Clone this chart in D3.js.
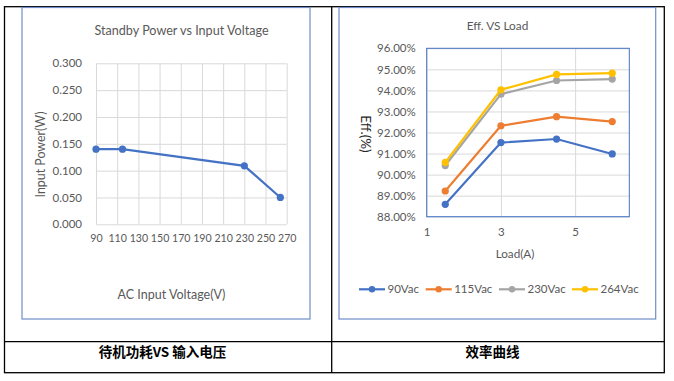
<!DOCTYPE html>
<html><head><meta charset="utf-8">
<script src="https://cdnjs.cloudflare.com/ajax/libs/d3/7.8.5/d3.min.js"></script>
<style>
html,body{margin:0;padding:0;background:#fff;}
svg text{font-family:Lato,"Open Sans",sans-serif;}
.cap{font-family:"Noto Sans CJK SC",sans-serif;font-weight:bold;}
</style></head>
<body><svg id="c" width="674" height="381"></svg>
<script>
// ---- data ----
const voltages = [90, 115, 230, 264];
const standbyPower = [0.140, 0.140, 0.109, 0.050];
const voltTicks = [90,110,130,150,170,190,210,230,250,270];
const powerTicks = [0,0.05,0.1,0.15,0.2,0.25,0.3];

const loads = [1.5, 3, 4.5, 6];
const seriesNames = ["90Vac","115Vac","230Vac","264Vac"];
const eff90 = [88.59, 91.52, 91.69, 90.98];
const eff115 = [89.22, 92.32, 92.75, 92.52];
const eff230 = [90.43, 93.82, 94.47, 94.54];
const eff264 = [90.58, 94.03, 94.76, 94.82];
const effTicks = [88,89,90,91,92,93,94,95,96];
const loadTicks = [1,3,5];
const colors = ["#4472C4","#ED7D31","#A5A5A5","#FFC000"];

const svg = d3.select("#c");
const gray = "#595959";

// ---- table frame ----
const T = svg.append("g").attr("stroke","#000").attr("stroke-width",1.3).attr("fill","none");
T.append("rect").attr("x",4.5).attr("y",6.7).attr("width",659.8).attr("height",366);
T.append("line").attr("x1",331.7).attr("x2",331.7).attr("y1",6.7).attr("y2",372.7);
T.append("line").attr("x1",4.5).attr("x2",664.3).attr("y1",341.7).attr("y2",341.7);

// chart boxes
svg.append("rect").attr("x",22).attr("y",7.5).attr("width",288).attr("height",311.5)
  .attr("fill","#fff").attr("stroke","#6F8DC8").attr("stroke-width",1.2);
svg.append("rect").attr("x",339).attr("y",7.5).attr("width",316.7).attr("height",311.5)
  .attr("fill","#fff").attr("stroke","#6F8DC8").attr("stroke-width",1.2);

// captions
svg.append("text").attr("class","cap").attr("x",162.5).attr("y",352).attr("dy","0.36em")
  .attr("text-anchor","middle").attr("font-size",13.5).attr("fill","#000").text("待机功耗VS 输入电压");
svg.append("text").attr("class","cap").attr("x",492.5).attr("y",352).attr("dy","0.36em")
  .attr("text-anchor","middle").attr("font-size",13.5).attr("fill","#000").text("效率曲线");

// ---- left chart ----
{
  const L=96, R=286.7, Tp=63.3, B=224.3;
  const x = d3.scaleLinear().domain([90,270]).range([L,R]);
  const y = d3.scaleLinear().domain([0,0.3]).range([B,Tp]);
  const g = svg.append("g");
  const ya = g.append("g").attr("transform",`translate(${L},0)`)
    .call(d3.axisLeft(y).tickValues(powerTicks).tickFormat(d3.format(".3f")).tickSize(-(R-L)).tickPadding(14));
  const xa = g.append("g").attr("transform",`translate(0,${B})`)
    .call(d3.axisBottom(x).tickValues(voltTicks).tickFormat(d3.format("d")).tickSize(-(B-Tp)).tickPadding(10.5));
  [ya,xa].forEach(a=>{
    a.select(".domain").remove();
    a.selectAll("line").attr("stroke","#D9D9D9").attr("stroke-width",1);
    a.selectAll("text").attr("fill",gray).attr("font-size",11.5).style("font-family","Lato");
  });
  xa.selectAll("text").attr("font-size",10.6);
  const pts = voltages.map((v,i)=>[v,standbyPower[i]]);
  g.append("path").datum(pts).attr("fill","none").attr("stroke","#4472C4").attr("stroke-width",2.2)
    .attr("d",d3.line().x(d=>x(d[0])).y(d=>y(d[1])));
  g.selectAll("circle").data(pts).join("circle").attr("cx",d=>x(d[0])).attr("cy",d=>y(d[1]))
    .attr("r",3.6).attr("fill","#4472C4");
  g.append("text").attr("x",181.5).attr("y",31).attr("dy","0.35em").attr("text-anchor","middle")
    .attr("font-size",12.6).attr("fill",gray).text("Standby Power vs Input Voltage");
  g.append("text").attr("transform","translate(41,154.5) rotate(-90)").attr("dy","0.35em")
    .attr("text-anchor","middle").attr("font-size",12.4).attr("fill",gray).text("Input Power(W)");
  g.append("text").attr("x",171.5).attr("y",295).attr("dy","0.35em").attr("text-anchor","middle")
    .attr("font-size",12.5).attr("fill",gray).text("AC Input Voltage(V)");
}

// ---- right chart ----
{
  const L=426.7, R=629.3, Tp=48.3, B=216.7;
  const x = d3.scaleLinear().domain([1,6.46]).range([L,R]);
  const y = d3.scaleLinear().domain([88,96]).range([B,Tp]);
  const g = svg.append("g");
  const ya = g.append("g").attr("transform",`translate(${L},0)`)
    .call(d3.axisLeft(y).tickValues(effTicks).tickFormat(d=>d.toFixed(2)+"%").tickSize(-(R-L)).tickPadding(11));
  const xa = g.append("g").attr("transform",`translate(0,${B})`)
    .call(d3.axisBottom(x).tickValues(loadTicks).tickFormat(d3.format("d")).tickSize(-(B-Tp)).tickPadding(11.5));
  [ya,xa].forEach(a=>{
    a.select(".domain").remove();
    a.selectAll("line").attr("stroke","#D9D9D9").attr("stroke-width",1);
    a.selectAll("text").attr("fill",gray).attr("font-size",11.5).style("font-family","Lato");
  });
  g.append("rect").attr("x",L).attr("y",Tp).attr("width",R-L).attr("height",B-Tp)
    .attr("fill","none").attr("stroke","#4472C4").attr("stroke-width",1);
  const all = [eff90,eff115,eff230,eff264];
  all.forEach((s,k)=>{
    const pts = loads.map((l,i)=>[l,s[i]]);
    const sg = g.append("g");
    sg.append("path").datum(pts).attr("fill","none").attr("stroke",colors[k]).attr("stroke-width",2.2)
      .attr("d",d3.line().x(d=>x(d[0])).y(d=>y(d[1])));
    sg.selectAll("circle").data(pts).join("circle").attr("cx",d=>x(d[0])).attr("cy",d=>y(d[1]))
      .attr("r",3.6).attr("fill",colors[k]);
  });
  g.append("text").attr("x",497.5).attr("y",26).attr("dy","0.35em").attr("text-anchor","middle")
    .attr("font-size",11.8).attr("fill",gray).text("Eff. VS Load");
  g.append("text").attr("transform","translate(366,134) rotate(90)").attr("dy","0.35em")
    .attr("text-anchor","middle").attr("font-size",13.5).attr("fill","#262626").text("Eff.(%)");
  g.append("text").attr("x",515).attr("y",254).attr("dy","0.35em").attr("text-anchor","middle")
    .attr("font-size",11.7).attr("fill",gray).text("Load(A)");
  // legend
  const legX = [359, 425.7, 499, 572];
  const lg = g.append("g");
  seriesNames.forEach((n,k)=>{
    const x0 = legX[k], ly = 289.3;
    lg.append("line").attr("x1",x0).attr("x2",x0+26).attr("y1",ly).attr("y2",ly)
      .attr("stroke",colors[k]).attr("stroke-width",2.2);
    lg.append("circle").attr("cx",x0+13).attr("cy",ly).attr("r",3.2).attr("fill",colors[k]);
    lg.append("text").attr("x",x0+28.5).attr("y",ly).attr("dy","0.35em").attr("font-size",11.5)
      .attr("fill",gray).text(n);
  });
}
</script></body></html>
